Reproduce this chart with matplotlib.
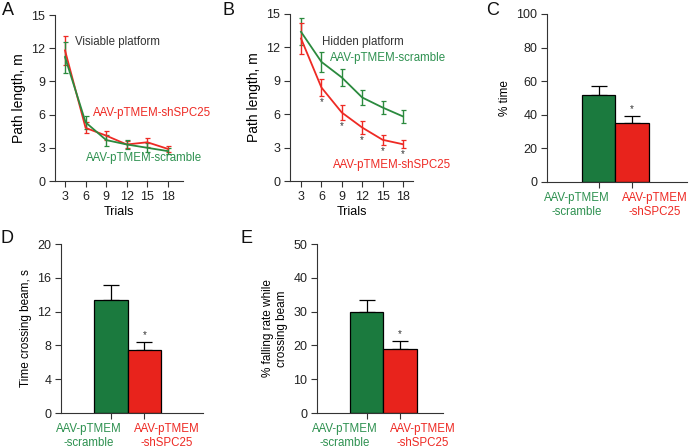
import matplotlib

matplotlib.use("Agg")
import matplotlib.pyplot as plt

plt.rcParams["font.family"] = ["Liberation Sans", "DejaVu Sans"]
plt.rcParams["font.size"] = 8

GREEN_LINE = "#2b8a3e"
RED_LINE = "#ee2a24"
GREEN_BAR = "#1b7a3e"
RED_BAR = "#e8231c"
GREEN_TXT = "#2e9150"
RED_TXT = "#ee2a24"

# --- data -----------------------------------------------------------------
trials = [3, 6, 9, 12, 15, 18]

vis_sh = [11.8, 4.8, 4.1, 3.3, 3.5, 2.9]
vis_sh_err = [1.3, 0.5, 0.4, 0.3, 0.4, 0.3]
vis_scr = [11.2, 5.3, 3.7, 3.3, 3.0, 2.7]
vis_scr_err = [1.4, 0.6, 0.5, 0.4, 0.4, 0.3]

hid_scr = [13.4, 10.7, 9.3, 7.5, 6.6, 5.8]
hid_scr_err = [1.2, 0.9, 0.8, 0.7, 0.6, 0.6]
hid_sh = [12.8, 8.4, 6.15, 4.8, 3.7, 3.3]
hid_sh_err = [1.35, 0.8, 0.65, 0.55, 0.45, 0.35]
hid_sig = [False, True, True, True, True, True]

groups = ["AAV-pTMEM\n-scramble", "AAV-pTMEM\n-shSPC25"]
pct_time = [51.5, 35.0]
pct_time_err = [5.5, 4.5]
cross_time = [13.4, 7.5]
cross_time_err = [1.8, 0.9]
fall_rate = [29.8, 18.9]
fall_rate_err = [3.5, 2.5]

W, H = 691, 448


def px_axes(fig, left, right, top, bottom):
    return fig.add_axes([left / W, 1 - bottom / H, (right - left) / W, (bottom - top) / H])


def style(ax):
    for s in ("top", "right"):
        ax.spines[s].set_visible(False)
    for s in ("left", "bottom"):
        ax.spines[s].set_linewidth(0.8)
        ax.spines[s].set_color("#333333")
    ax.tick_params(direction="out", length=4, width=0.8, color="#333333",
                   labelcolor="#222222", labelsize=9, pad=3)


def line_panel(ax, series, ylabel):
    style(ax)
    for y, e, c in series:
        ax.errorbar(trials, y, yerr=e, color=c, lw=1.3, capsize=1.8,
                    elinewidth=1.0, capthick=0.9)
    ax.set_ylim(0, 15)
    ax.set_yticks([0, 3, 6, 9, 12, 15])
    ax.set_xticks(trials)
    ax.set_xlabel("Trials", labelpad=2, fontsize=9)
    ax.set_ylabel(ylabel, labelpad=4, fontsize=10)


def bar_panel(ax, vals, errs, ymax, ystep, ylabel, xlim):
    style(ax)
    x = [0, 1]
    ax.bar(x, vals, width=1.0, color=[GREEN_BAR, RED_BAR],
           edgecolor="black", linewidth=0.9, zorder=2)
    ax.errorbar(x, vals, yerr=[[0, 0], errs], fmt="none", ecolor="black",
                elinewidth=0.9, capsize=6, capthick=0.9, zorder=1)
    ax.text(1, vals[1] + errs[1] + ymax * 0.01, "*", ha="center", va="bottom",
            fontsize=7, color="#333333")
    ax.set_xlim(*xlim)
    ax.set_ylim(0, ymax)
    ax.set_yticks(range(0, ymax + 1, ystep))
    ax.set_xticks(x)
    ax.set_xticklabels([])
    ax.set_ylabel(ylabel, labelpad=4, fontsize=8.5)
    for xi, lab, c, dx in zip(x, groups, [GREEN_TXT, RED_TXT], [-0.65, 0.67]):
        ax.text(xi + dx, -ymax * 0.06, lab, color=c, ha="center", va="top",
                fontsize=8.3, linespacing=1.25, multialignment="center")


fig = plt.figure(figsize=(W / 100, H / 100), dpi=100)

# A
axA = px_axes(fig, 55, 183, 15, 181)
line_panel(axA, [(vis_sh, vis_sh_err, RED_LINE), (vis_scr, vis_scr_err, GREEN_LINE)],
           "Path length, m")
axA.set_xlim(1.54, 20.2)
axA.text(4.45, 12.55, "Visiable platform", color="#333333", va="center", fontsize=8.3)
axA.text(7.07, 6.14, "AAV-pTMEM-shSPC25", color=RED_TXT, va="center", fontsize=8.3)
axA.text(6.05, 2.08, "AAV-pTMEM-scramble", color=GREEN_TXT, va="center", fontsize=8.3)

# B
axB = px_axes(fig, 290, 413, 14, 181)
line_panel(axB, [(hid_scr, hid_scr_err, GREEN_LINE), (hid_sh, hid_sh_err, RED_LINE)],
           "Path length, m")
axB.set_xlim(1.38, 19.47)
for t, y, e, s in zip(trials, hid_sh, hid_sh_err, hid_sig):
    if s:
        axB.text(t, y - e - 0.1, "*", ha="center", va="top", fontsize=7, color="#333333")
axB.text(6.09, 12.5, "Hidden platform", color="#333333", va="center", fontsize=8.3)
axB.text(7.26, 11.05, "AAV-pTMEM-scramble", color=GREEN_TXT, va="center", fontsize=8.3)
axB.text(7.7, 1.45, "AAV-pTMEM-shSPC25", color=RED_TXT, va="center", fontsize=8.3)

# C
axC = px_axes(fig, 547, 687, 14, 182)
bar_panel(axC, pct_time, pct_time_err, 100, 20, "% time", (-1.54, 2.64))

# D
axD = px_axes(fig, 61, 203, 244, 413)
bar_panel(axD, cross_time, cross_time_err, 20, 4, "Time crossing beam, s", (-1.49, 2.75))

# E
axE = px_axes(fig, 317, 443, 244, 413)
bar_panel(axE, fall_rate, fall_rate_err, 50, 10,
          "% falling rate while\ncrossing beam", (-1.48, 2.28))

# panel letters
for lab, x, y in [("A", 2, 2), ("B", 222, 2), ("C", 486, 2), ("D", 1, 230), ("E", 240, 230)]:
    fig.text(x / W, 1 - y / H, lab, fontsize=13, ha="left", va="top", color="#111111")

fig.savefig("out.png", dpi=100)
